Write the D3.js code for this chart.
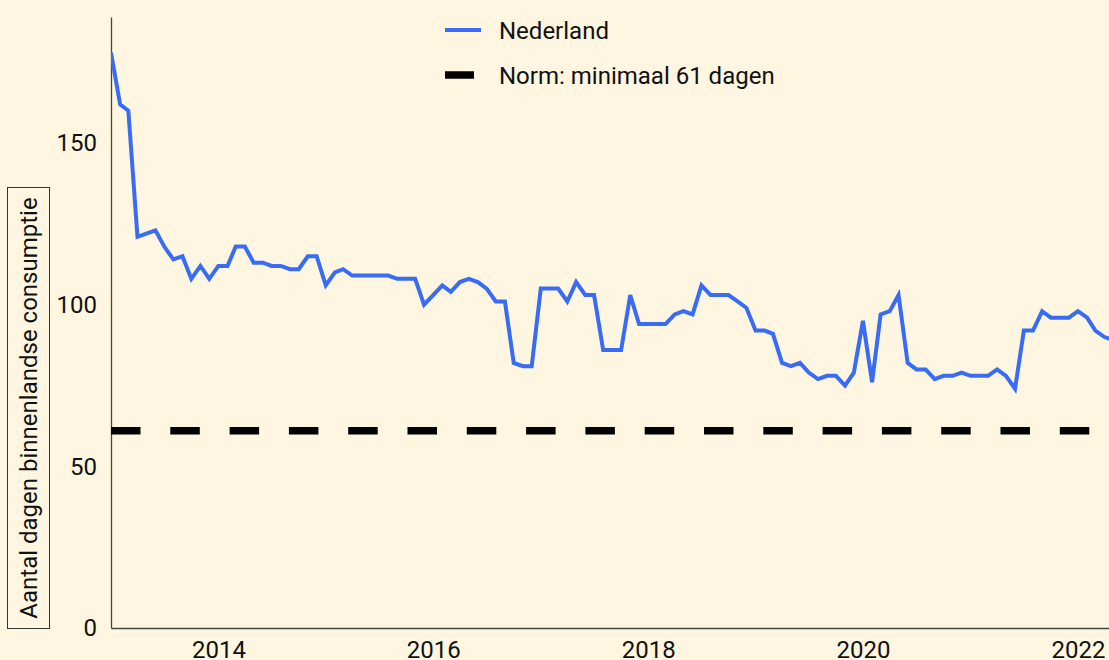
<!DOCTYPE html>
<html>
<head>
<meta charset="utf-8">
<script src="https://cdn.jsdelivr.net/npm/d3@7"></script>
<style>
  body { margin: 0; background: #fef6e0; overflow: hidden; }
  text { font-family: Roboto, sans-serif; }
</style>
</head>
<body>
<div id="chart"></div>
<script>
// monthly values, starting January 2013
var startMonth = "2013-01";
var values = [
    178, 162, 160, 121, 122, 123, 118, 114, 115, 108, 112, 108,   // 2013
    112, 112, 118, 118, 113, 113, 112, 112, 111, 111, 115, 115,   // 2014
    106, 110, 111, 109, 109, 109, 109, 109, 108, 108, 108, 100,   // 2015
    103, 106, 104, 107, 108, 107, 105, 101, 101, 82, 81, 81,      // 2016
    105, 105, 105, 101, 107, 103, 103, 86, 86, 86, 103, 94,       // 2017
    94, 94, 94, 97, 98, 97, 106, 103, 103, 103, 101, 99,          // 2018
    92, 92, 91, 82, 81, 82, 79, 77, 78, 78, 75, 79,               // 2019
    95, 76, 97, 98, 103, 82, 80, 80, 77, 78, 78, 79,              // 2020
    78, 78, 78, 80, 78, 74, 92, 92, 98, 96, 96, 96,               // 2021
    98, 96, 92, 90, 89                                            // 2022
];
var norm = 61;
var yTicks = [0, 50, 100, 150];
var seriesLabels = ["Nederland", "Norm: minimaal 61 dagen"];
var yLabel = "Aantal dagen binnenlandse consumptie";

var svgWidth = 1109;
var svgHeight = 660;
var plot = { left: 111, right: 1109, top: 17, bottom: 628 };
var fontSize = "24px";

var svg = d3.select("#chart")
    .append("svg")
    .attr("width", svgWidth)
    .attr("height", svgHeight)
    .style("display", "block");

svg.append("rect")
    .attr("width", svgWidth)
    .attr("height", svgHeight)
    .attr("fill", "#fef6e0");

var parseMonth = d3.timeParse("%Y-%m");
var start = parseMonth(startMonth);
var data = values.map(function (v, i) {
    return { date: d3.timeMonth.offset(start, i), value: v };
});

// scale: Jan 2013 -> 111px, Jan 2022 -> 1078px, then stretch to the right edge
var x = d3.scaleTime()
    .domain([start, parseMonth("2022-01")])
    .range([plot.left, 1078]);
x.domain([start, x.invert(plot.right)]).range([plot.left, plot.right]);

var y = d3.scaleLinear()
    .domain([0, 189])
    .range([plot.bottom, plot.top]);

svg.append("clipPath")
    .attr("id", "clip")
    .append("rect")
    .attr("x", plot.left)
    .attr("y", 0)
    .attr("width", plot.right - plot.left)
    .attr("height", plot.bottom);

// axes
var xAxis = svg.append("g")
    .attr("transform", `translate(0, ${plot.bottom})`)
    .call(d3.axisBottom(x)
        .ticks(d3.timeYear.every(2))
        .tickFormat(d3.timeFormat("%Y"))
        .tickSize(0)
        .tickPadding(13));

var yAxis = svg.append("g")
    .attr("transform", `translate(${plot.left}, 0)`)
    .call(d3.axisLeft(y)
        .tickValues(yTicks)
        .tickSize(0)
        .tickPadding(14));

[xAxis, yAxis].forEach(function (ax) {
    ax.select(".domain").attr("stroke", "#444").attr("stroke-width", 1.3);
    ax.selectAll("text")
        .attr("font-size", fontSize)
        .attr("font-family", "Roboto, sans-serif")
        .attr("fill", "#111");
});

// norm line
svg.append("line")
    .attr("clip-path", "url(#clip)")
    .attr("x1", plot.left)
    .attr("x2", plot.right + 20)
    .attr("y1", y(norm))
    .attr("y2", y(norm))
    .attr("stroke", "#000")
    .attr("stroke-width", 7.5)
    .attr("stroke-dasharray", "29.5,29.8");

// Nederland line
var line = d3.line()
    .x(d => x(d.date))
    .y(d => y(d.value));

svg.append("path")
    .datum(data)
    .attr("clip-path", "url(#clip)")
    .attr("d", line)
    .attr("fill", "none")
    .attr("stroke", "#386cf5")
    .attr("stroke-width", 4);

// y axis label in a box
var labelG = svg.append("g");
labelG.append("rect")
    .attr("x", 7.5)
    .attr("y", 187.5)
    .attr("width", 42)
    .attr("height", 441)
    .attr("fill", "none")
    .attr("stroke", "#333")
    .attr("stroke-width", 1);

labelG.append("text")
    .attr("transform", `translate(37, ${187.5 + 441 / 2}) rotate(-90)`)
    .attr("text-anchor", "middle")
    .attr("font-size", fontSize)
    .attr("fill", "#111")
    .text(yLabel);

// legend
var legend = svg.append("g");
legend.append("line")
    .attr("x1", 445).attr("x2", 481)
    .attr("y1", 30).attr("y2", 30)
    .attr("stroke", "#386cf5")
    .attr("stroke-width", 4);
legend.append("line")
    .attr("x1", 445).attr("x2", 474)
    .attr("y1", 75).attr("y2", 75)
    .attr("stroke", "#000")
    .attr("stroke-width", 7.5);
legend.selectAll("text")
    .data(seriesLabels)
    .enter()
    .append("text")
    .attr("x", 499)
    .attr("y", (d, i) => 30 + i * 45)
    .attr("dy", "0.36em")
    .attr("font-size", fontSize)
    .attr("fill", "#111")
    .text(d => d);
</script>
</body>
</html>
